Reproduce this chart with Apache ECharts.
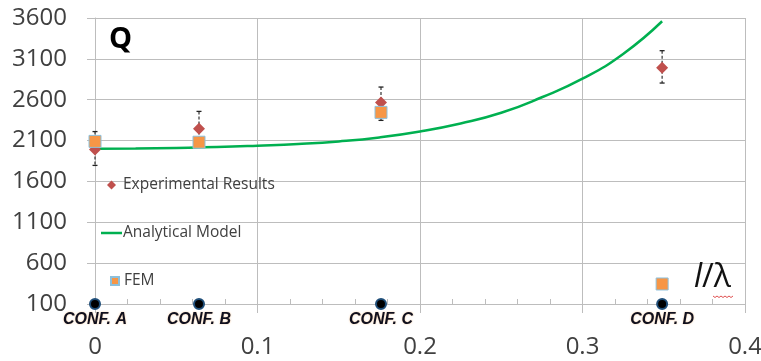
<!DOCTYPE html>
<html>
<head>
<meta charset="utf-8">
<script src="https://cdn.jsdelivr.net/npm/echarts@6/dist/echarts.min.js"></script>
<style>
html,body{margin:0;padding:0;background:#fff;}
#chart{width:761px;height:361px;}
</style>
</head>
<body>
<div id="chart"></div>
<script>
// ---- data ----
const yTickLabels = ['100','600','1100','1600','2100','2600','3100','3600'];
const xTickLabels = ['0','0.1','0.2','0.3','0.4'];
const confX = [0, 0.064, 0.176, 0.349];
const confLabels = ['CONF. A', 'CONF. B', 'CONF. C', 'CONF. D'];
const confY = [100, 100, 100, 100];
const expY = [1990, 2245, 2567, 2990];
const expLow = [1796, 2035, 2347, 2804];
const expHigh = [2210, 2457, 2755, 3200];
const femY = [2090, 2080, 2445, 345];
const modelX = [0, 0.025, 0.05, 0.075, 0.1, 0.125, 0.15, 0.175, 0.2, 0.225, 0.25, 0.275, 0.3, 0.325, 0.349];
const modelY = [2000, 2003, 2010, 2020, 2037, 2058, 2090, 2139, 2212, 2310, 2440, 2630, 2857, 3160, 3560];

const FONT = '"Open Sans", "Liberation Sans", sans-serif';
const GRID_COL = '#bdbdbd';
const legendText = (padLeft) => ({fontFamily: FONT, fontSize: 15.5, color: '#404040', padding: [0, 0, 0, padLeft]});

const chart = echarts.init(document.getElementById('chart'), null, {renderer: 'canvas'});

const option = {
  backgroundColor: '#ffffff',
  animation: false,
  textStyle: {fontFamily: FONT},
  title: {
    text: 'Q', left: 104, top: 20,
    textStyle: {fontFamily: FONT, fontWeight: 'bold', fontSize: 29, color: '#000'}
  },
  grid: {left: 95, right: 16, top: 18, bottom: 57, containLabel: false, outerBoundsMode: 'none'},
  legend: [{
    left: 107, top: 177, padding: 0, itemWidth: 9, itemHeight: 9,
    data: [{name: 'Experimental Results', icon: 'diamond'}],
    textStyle: legendText(2)
  }, {
    left: 101, top: 225, padding: 0, itemWidth: 21, itemHeight: 2.5,
    data: [{name: 'Analytical Model', icon: 'rect'}],
    textStyle: legendText(-4)
  }, {
    left: 110, top: 273, padding: 0, itemWidth: 8, itemHeight: 8,
    data: [{name: 'FEM', icon: 'rect'}],
    textStyle: legendText(0)
  }],
  xAxis: [{
    type: 'value', min: 0, max: 0.4, interval: 0.1,
    axisLine: {show: true, lineStyle: {color: GRID_COL, width: 1}},
    axisTick: {show: true, length: 9, lineStyle: {color: GRID_COL}},
    splitLine: {show: true, lineStyle: {color: GRID_COL, width: 1}},
    axisLabel: {
      margin: 31, fontFamily: FONT, fontSize: 24, color: '#404040',
      formatter: (v, i) => xTickLabels[i]
    }
  }, {
    type: 'value', min: 0, max: 0.4, interval: 0.1, position: 'bottom',
    axisLine: {show: false},
    axisTick: {show: false, inside: true},
    minorTick: {show: true, splitNumber: 5, length: 5, lineStyle: {color: GRID_COL}},
    splitLine: {show: false},
    axisLabel: {show: false}
  }],
  yAxis: [{
    type: 'value', min: 100, max: 3600, show: false, position: 'left'
  }, {
    type: 'value', min: 0, max: 3500, interval: 500, position: 'left',
    axisLine: {show: true, lineStyle: {color: GRID_COL, width: 1}},
    axisTick: {show: true, length: 8, lineStyle: {color: GRID_COL}},
    splitLine: {show: true, lineStyle: {color: GRID_COL, width: 1}},
    axisLabel: {
      margin: 28, fontFamily: FONT, fontSize: 24, color: '#404040',
      formatter: (v, i) => yTickLabels[i]
    }
  }],
  series: [
    {
      name: 'Error', type: 'custom', xAxisIndex: 0, yAxisIndex: 0, z: 3,
      data: confX.map((x, i) => [x, expLow[i], expHigh[i]]),
      encode: {x: 0, y: [1, 2]},
      renderItem: (params, api) => {
        const x = api.value(0);
        const top = api.coord([x, api.value(2)]);
        const bot = api.coord([x, api.value(1)]);
        const w = 2.5;
        const st = {stroke: '#222', lineWidth: 1.3};
        return {type: 'group', children: [
          {type: 'line', shape: {x1: top[0], y1: top[1], x2: bot[0], y2: bot[1]}, style: {stroke: '#333', lineWidth: 1.2, lineDash: [3, 2]}},
          {type: 'line', shape: {x1: top[0] - w, y1: top[1], x2: top[0] + w, y2: top[1]}, style: st},
          {type: 'line', shape: {x1: bot[0] - w, y1: bot[1], x2: bot[0] + w, y2: bot[1]}, style: st}
        ]};
      }
    },
    {
      name: 'Experimental Results', type: 'scatter', xAxisIndex: 0, yAxisIndex: 0, z: 4, clip: false,
      symbol: 'diamond', symbolSize: 12,
      itemStyle: {color: '#c0504d', opacity: 1},
      data: confX.map((x, i) => [x, expY[i]])
    },
    {
      name: 'Analytical Model', type: 'line', xAxisIndex: 0, yAxisIndex: 0, z: 3,
      smooth: true, symbol: 'none', showSymbol: false,
      lineStyle: {color: '#00b050', width: 2.5},
      itemStyle: {color: '#00b050'},
      data: modelX.map((x, i) => [x, modelY[i]])
    },
    {
      name: 'FEM', type: 'scatter', xAxisIndex: 0, yAxisIndex: 0, z: 5, clip: false,
      symbol: 'rect', symbolSize: 12,
      itemStyle: {color: '#f79646', borderColor: '#8cc0dc', borderWidth: 1, opacity: 1},
      data: confX.map((x, i) => [x, femY[i]])
    },
    {
      name: 'Configurations', type: 'scatter', xAxisIndex: 0, yAxisIndex: 0, z: 6, clip: false,
      symbol: 'circle', symbolSize: 10,
      itemStyle: {color: '#000', borderColor: '#1f4e79', borderWidth: 2, opacity: 1},
      label: {
        show: true, position: 'bottom', distance: 2,
        formatter: p => confLabels[p.dataIndex],
        fontFamily: '"Liberation Sans", Arial, sans-serif', fontSize: 16, fontWeight: 'bold', fontStyle: 'italic',
        color: '#10101e', textShadowColor: 'rgba(247,170,90,0.6)', textShadowBlur: 2
      },
      data: confX.map((x, i) => [x, confY[i]])
    }
  ],
  graphic: [
    {
      type: 'text', left: 694, top: 262, z: 10,
      style: {
        text: '{i|l}{n|/λ}',
        rich: {
          i: {fontFamily: FONT, fontSize: 32, fontStyle: 'italic', fill: '#111'},
          n: {fontFamily: FONT, fontSize: 32, fill: '#111'}
        }
      }
    },
    {
      type: 'polyline', z: 10,
      shape: {points: [[713,296],[715,297.5],[717,296],[719,297.5],[721,296],[723,297.5],[725,296],[727,297.5],[729,296],[731,297.5],[733,296]]},
      style: {stroke: '#e05050', lineWidth: 1, fill: null}
    }
  ]
};

chart.setOption(option);
</script>
</body>
</html>
